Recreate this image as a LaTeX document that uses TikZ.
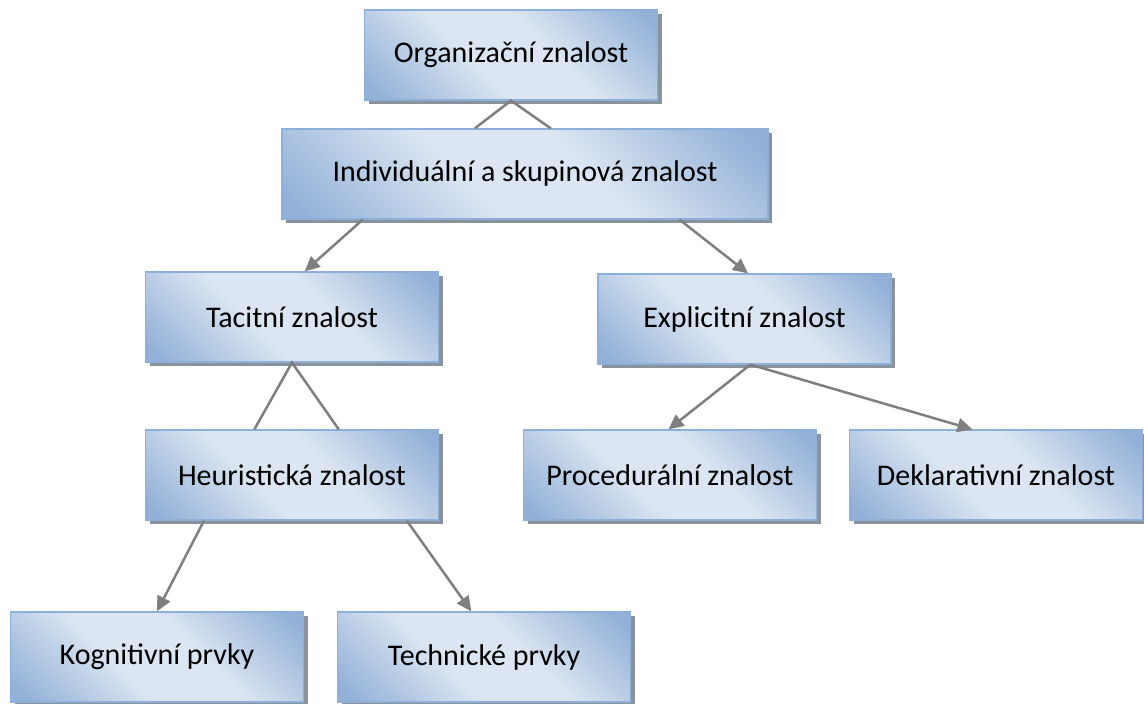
\documentclass[tikz,border=0pt]{standalone}
\usepackage{fontspec}
\setmainfont{Carlito}
\usetikzlibrary{calc,shadows,arrows.meta}

\definecolor{boxlight}{HTML}{DCE6F2}
\definecolor{boxdark}{HTML}{93B1D8}
\definecolor{boxline}{HTML}{8DB0DA}
\definecolor{shadowgrey}{HTML}{8A929C}
\definecolor{linkgrey}{HTML}{7F7F7F}

% dark corners, broad light band across the middle
\pgfdeclarehorizontalshading{boxshade}{100bp}{%
  color(0bp)=(boxdark); color(18bp)=(boxdark);
  color(42bp)=(boxlight); color(58bp)=(boxlight);
  color(82bp)=(boxdark); color(100bp)=(boxdark)}

\tikzset{
  box/.style={draw=boxline, line width=1.2pt,
    shading=boxshade, shading angle=45,
    drop shadow={shadow xshift=4pt, shadow yshift=-4pt, fill=shadowgrey, opacity=1},
    minimum width=293pt, minimum height=90pt, inner sep=0pt,
    font=\fontsize{30}{36}\selectfont, text=black},
  widebox/.style={box, minimum width=486pt},
  link/.style={draw=linkgrey, line width=2.5pt},
  arrowlink/.style={link, -{Triangle[length=15pt,width=14pt]}}
}

\begin{document}
\begin{tikzpicture}[x=1pt,y=-1pt]
  \useasboundingbox (0,0) rectangle (1144,704);

  % boxes of the hierarchy
  \node[box]     (org)   at (511,55)    {Organizační znalost};
  \node[widebox] (indiv) at (525,174)   {Individuální a skupinová znalost};
  \node[box]     (tac)   at (292,317)   {Tacitní znalost};
  \node[box]     (expl)  at (744.5,319) {Explicitní znalost};
  \node[box]     (heur)  at (292,475)   {Heuristická znalost};
  \node[box]     (proc)  at (670,475)   {Procedurální znalost};
  \node[box]     (dekl)  at (996,475)   {Deklarativní znalost};
  \node[box]     (kog)   at (157,657)   {Kognitivní prvky};
  \node[box]     (tech)  at (484,657)   {Technické prvky};

  % open "roof" joints
  \draw[link] ($(indiv.north west)!0.397!(indiv.north east)$) -- (org.south)
              -- ($(indiv.north west)!0.553!(indiv.north east)$);
  \draw[link] ($(heur.north west)!0.372!(heur.north east)$) -- (tac.south)
              -- ($(heur.north west)!0.659!(heur.north east)$);

  % arrows
  \draw[arrowlink] ($(indiv.south west)!0.167!(indiv.south east)$)
                -- ($(tac.north west)!0.543!(tac.north east)$);
  \draw[arrowlink] ($(indiv.south west)!0.817!(indiv.south east)$)
                -- ($(expl.north west)!0.512!(expl.north east)$);
  \draw[arrowlink] ($(expl.south west)!0.52!(expl.south east)$)
                -- ($(proc.north west)!0.495!(proc.north east)$);
  \draw[arrowlink] ($(expl.south west)!0.52!(expl.south east)$)
                -- ($(dekl.north west)!0.42!(dekl.north east)$);
  \draw[arrowlink] ($(heur.south west)!0.201!(heur.south east)$)
                -- ($(kog.north west)!0.5!(kog.north east)$);
  \draw[arrowlink] ($(heur.south west)!0.89!(heur.south east)$)
                -- ($(tech.north west)!0.457!(tech.north east)$);
\end{tikzpicture}
\end{document}
